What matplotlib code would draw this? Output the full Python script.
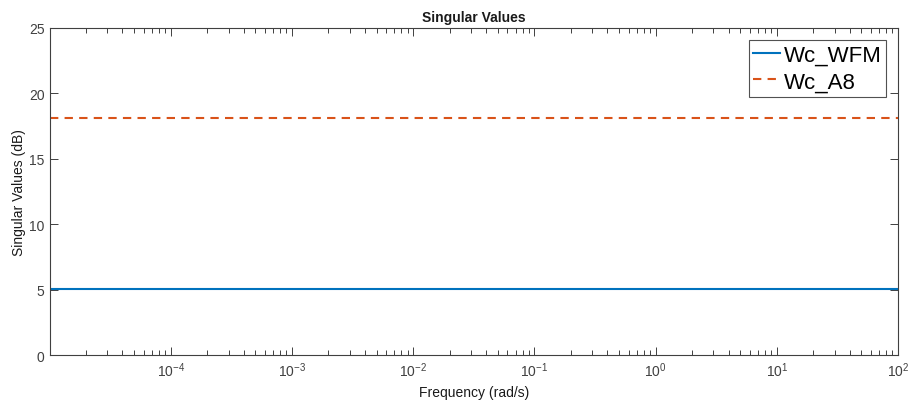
import numpy as np
import matplotlib
matplotlib.use("Agg")
import matplotlib.pyplot as plt
from matplotlib.ticker import LogLocator, NullFormatter

# Data
freq = [1e-5, 1e2]
wc_wfm = [5.08, 5.08]
wc_a8 = [18.1, 18.1]
series_names = ["Wc_WFM", "Wc_A8"]
xtick_vals = [1e-4, 1e-3, 1e-2, 1e-1, 1e0, 1e1, 1e2]
ytick_vals = [0, 5, 10, 15, 20, 25]

plt.rcParams['font.family'] = ['Liberation Sans', 'DejaVu Sans']
axc = '#404040'

fig = plt.figure(figsize=(9.1, 4.06), dpi=100)
ax = fig.add_axes([0.0544, 0.123, 0.9324, 0.8056])

ax.plot(freq, wc_wfm, color='#0072BD', lw=1.5, label=series_names[0])
ax.plot(freq, wc_a8, color='#D95319', lw=1.5, ls=(0, (4, 3)), label=series_names[1])

ax.set_xscale('log')
ax.set_xlim(1e-5, 1e2)
ax.set_ylim(0, 25)
ax.set_xticks(xtick_vals)
ax.set_yticks(ytick_vals)
ax.xaxis.set_minor_locator(LogLocator(base=10, subs=np.arange(2, 10), numticks=20))
ax.xaxis.set_minor_formatter(NullFormatter())

ax.tick_params(which='both', direction='in', top=True, right=True, colors=axc, labelsize=10)
ax.tick_params(which='major', length=5.5, width=0.7)
ax.tick_params(which='minor', length=3.5, width=0.7)
for s in ax.spines.values():
    s.set_color(axc)
    s.set_linewidth(0.8)

ax.set_xlabel('Frequency (rad/s)', fontsize=10, color='#1a1a1a', labelpad=5)
ax.set_ylabel('Singular Values (dB)', fontsize=10, color='#1a1a1a', labelpad=2)
ax.set_title('Singular Values', fontsize=10, fontweight='bold', color='#1a1a1a', pad=5)

leg = ax.legend(loc='upper right', fontsize=16, frameon=True, fancybox=False,
                edgecolor='#262626', handlelength=1.2, handletextpad=0.15,
                borderpad=0.2, labelspacing=0.25, borderaxespad=0.55)
leg.get_frame().set_linewidth(0.8)

fig.savefig('out.png', dpi=100)
